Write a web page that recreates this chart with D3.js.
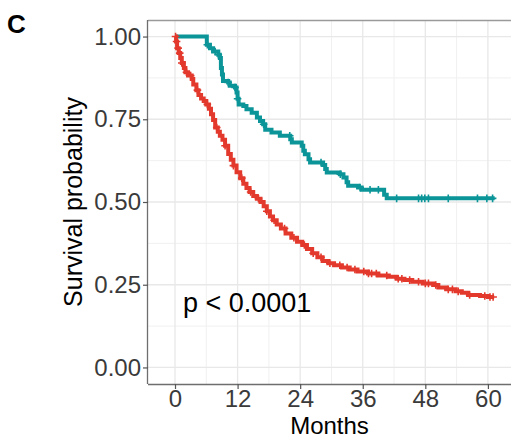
<!DOCTYPE html>
<html>
<head>
<meta charset="utf-8">
<script src="https://cdn.jsdelivr.net/npm/d3@7"></script>
<style>
  html, body { margin: 0; padding: 0; background: #fff; }
  svg { display: block; }
  text { font-family: "Liberation Sans", Arial, sans-serif; }
</style>
</head>
<body>
<svg id="chart" width="511" height="442"></svg>
<script>
// Kaplan-Meier estimates for the two groups (months, survival probability)
const tealTime = [0, 6.1, 6.7, 7.3, 8.3, 8.6, 8.8, 9.0, 9.2, 10.2, 10.5, 11.5, 11.8, 12.0, 12.2,
  13.1, 13.7, 14.7, 15.7, 16.3, 16.9, 17.3, 18.5, 20.1, 22.1, 22.4, 24.3, 24.6, 24.9, 25.6,
  25.9, 28.4, 28.8, 29.1, 31.6, 32.3, 32.9, 33.2, 35.1, 35.8, 40.1, 40.6];
const tealSurv = [1.0, 0.975, 0.965, 0.955, 0.945, 0.935, 0.905, 0.885, 0.866, 0.861, 0.851, 0.846, 0.831, 0.812, 0.795,
  0.790, 0.780, 0.770, 0.755, 0.745, 0.735, 0.718, 0.710, 0.700, 0.690, 0.680, 0.670, 0.655, 0.644, 0.629,
  0.619, 0.612, 0.600, 0.589, 0.584, 0.574, 0.560, 0.549, 0.544, 0.537, 0.522, 0.511];
const tealEnd = 61.3;
const tealCensor = [6.2, 7.7, 8.3, 10.2, 11.5, 12.0, 17.0, 22.0, 28.0, 31.7, 35.5, 37.4, 39.0,
  42.5, 46.7, 47.3, 47.9, 48.6, 52.4, 58.0, 59.8, 60.9];

const redTime = [0, 0.2, 0.4, 0.7, 1.0, 1.3, 1.7, 2.0, 2.5, 3.2, 3.5, 4.1, 4.5, 5.0, 5.5, 6.0, 6.5, 6.9,
  7.3, 7.7, 8.2, 8.6, 9.1, 9.6, 10.2, 10.7, 11.2, 11.8, 12.5, 13.1, 13.7, 14.3, 15.0, 15.7, 16.4,
  17.0, 17.6, 18.2, 18.8, 19.5, 20.3, 21.2, 22.3, 23.4, 24.4, 25.3, 26.3, 27.3, 28.3, 29.4, 30.5,
  32.0, 33.5, 35.0, 37.0, 39.0, 41.0, 42.5, 44.0, 45.5, 47.5, 49.5, 50.5, 52.0, 53.8, 55.0, 56.2,
  58.5, 60.0];
const redSurv = [1.0, 0.985, 0.965, 0.95, 0.935, 0.92, 0.905, 0.892, 0.882, 0.872, 0.855, 0.838, 0.823, 0.813,
  0.805, 0.795, 0.782, 0.765, 0.748, 0.725, 0.712, 0.700, 0.688, 0.670, 0.645, 0.628, 0.610, 0.590,
  0.572, 0.555, 0.542, 0.530, 0.518, 0.510, 0.500, 0.487, 0.472, 0.456, 0.445, 0.432, 0.420, 0.405,
  0.392, 0.380, 0.370, 0.358, 0.345, 0.333, 0.322, 0.315, 0.309, 0.302, 0.296, 0.290, 0.284, 0.278,
  0.274, 0.268, 0.264, 0.259, 0.254, 0.249, 0.242, 0.236, 0.230, 0.226, 0.219, 0.216, 0.213];
const redEnd = 61.2;
const redCensor = [0.1, 0.3, 0.6, 0.9, 1.3, 2.2, 3.0, 4.3, 6.2, 8.0, 9.6, 11.2, 12.8, 14.5, 16.0, 17.6,
  19.0, 21.0, 22.8, 24.8, 26.5, 28.0, 29.7, 31.6, 33.0, 34.5, 36.2, 37.1, 37.7, 38.6, 40.6, 42.8,
  43.5, 45.0, 46.7, 48.0, 48.6, 50.0, 52.4, 53.2, 54.3, 56.5, 59.4, 60.4, 61.0];

// Axis ticks
const xTicks = [0, 12, 24, 36, 48, 60];
const xMinor = [6, 18, 30, 42, 54];
const yTicks = [0, 0.25, 0.5, 0.75, 1.0];
const yMinor = [0.125, 0.375, 0.625, 0.875];

const groups = [
  { time: tealTime, surv: tealSurv, end: tealEnd, censor: tealCensor, color: "#0b9598" },
  { time: redTime, surv: redSurv, end: redEnd, censor: redCensor, color: "#e3392c" }
];

const svg = d3.select("#chart");
const panel = { left: 148, right: 511, top: 20, bottom: 384 };

const x = d3.scaleLinear().domain([-5.18, 64.43]).range([panel.left, panel.right]);
const y = d3.scaleLinear().domain([-0.05, 1.05]).range([panel.bottom, panel.top]);

// Grid
const grid = svg.append("g");
grid.selectAll(".xminor").data(xMinor).join("line")
  .attr("x1", d => x(d)).attr("x2", d => x(d))
  .attr("y1", panel.top).attr("y2", panel.bottom)
  .attr("stroke", "#f0f0f0").attr("stroke-width", 1);
grid.selectAll(".yminor").data(yMinor).join("line")
  .attr("y1", d => y(d)).attr("y2", d => y(d))
  .attr("x1", panel.left).attr("x2", panel.right)
  .attr("stroke", "#f0f0f0").attr("stroke-width", 1);
grid.selectAll(".xmajor").data(xTicks).join("line")
  .attr("x1", d => x(d)).attr("x2", d => x(d))
  .attr("y1", panel.top).attr("y2", panel.bottom)
  .attr("stroke", "#e8e8e8").attr("stroke-width", 1.3);
grid.selectAll(".ymajor").data(yTicks).join("line")
  .attr("y1", d => y(d)).attr("y2", d => y(d))
  .attr("x1", panel.left).attr("x2", panel.right)
  .attr("stroke", "#e8e8e8").attr("stroke-width", 1.3);

// Top border
svg.append("line")
  .attr("x1", panel.left).attr("x2", panel.right)
  .attr("y1", panel.top + 0.5).attr("y2", panel.top + 0.5)
  .attr("stroke", "#9a9a9a").attr("stroke-width", 1.3);

// Axes
const xAxis = d3.axisBottom(x).tickValues(xTicks).tickSize(5).tickPadding(1).tickFormat(d3.format("d"));
const yAxis = d3.axisLeft(y).tickValues(yTicks).tickSize(5).tickPadding(2).tickFormat(d3.format(".2f"));

const gx = svg.append("g").attr("transform", `translate(0,${panel.bottom})`).call(xAxis);
const gy = svg.append("g").attr("transform", `translate(${panel.left},0)`).call(yAxis);
[gx, gy].forEach(g => {
  g.select(".domain").attr("stroke", "#6e6e6e").attr("stroke-width", 1.3);
  g.selectAll(".tick line").attr("stroke", "#555").attr("stroke-width", 1.2);
  g.selectAll(".tick text")
    .attr("fill", "#3a3a3a")
    .style("font-size", "24px")
    .style("font-family", "'Liberation Sans', Arial, sans-serif");
});
gx.select(".domain").attr("d", `M${panel.left},0.5H${panel.right}`);
gy.select(".domain").attr("d", `M-0.5,${panel.top}V${panel.bottom}`);

// Survival curves (clipped to the panel)
svg.append("clipPath").attr("id", "clip")
  .append("rect").attr("x", panel.left).attr("y", panel.top)
  .attr("width", panel.right - panel.left).attr("height", panel.bottom - panel.top);

const line = d3.line().x(d => x(d[0])).y(d => y(d[1])).curve(d3.curveStepAfter);
const plot = svg.append("g").attr("clip-path", "url(#clip)");

groups.forEach(g => {
  const pts = g.time.map((t, i) => [t, g.surv[i]]);
  pts.push([g.end, g.surv[g.surv.length - 1]]);
  plot.append("path").datum(pts)
    .attr("d", line)
    .attr("fill", "none")
    .attr("stroke", g.color)
    .attr("stroke-width", 4)
    .attr("stroke-linejoin", "miter");

  // Censoring marks sit on the step function
  const survAt = t => g.surv[Math.max(0, d3.bisectRight(g.time, t) - 1)];
  const s = 3.8;
  plot.append("g").selectAll("path").data(g.censor).join("path")
    .attr("d", t => {
      const cx = x(t), cy = y(survAt(t));
      return `M${cx - s},${cy}H${cx + s}M${cx},${cy - s}V${cy + s}`;
    })
    .attr("stroke", g.color)
    .attr("stroke-width", 1.6)
    .attr("fill", "none");
});

// Annotation and titles
svg.append("text")
  .attr("x", 183).attr("y", 312)
  .style("font-size", "27px").attr("fill", "#000")
  .text("p < 0.0001");

svg.append("text")
  .attr("x", (panel.left + panel.right) / 2).attr("y", 434)
  .attr("text-anchor", "middle")
  .style("font-size", "24px").attr("fill", "#000")
  .text("Months");

svg.append("text")
  .attr("transform", `translate(82,${(panel.top + panel.bottom) / 2}) rotate(-90)`)
  .attr("text-anchor", "middle")
  .style("font-size", "25px").attr("fill", "#000")
  .text("Survival probability");

svg.append("text")
  .attr("x", 7).attr("y", 33)
  .style("font-size", "26px").style("font-weight", "bold").attr("fill", "#000")
  .text("C");
</script>
</body>
</html>
